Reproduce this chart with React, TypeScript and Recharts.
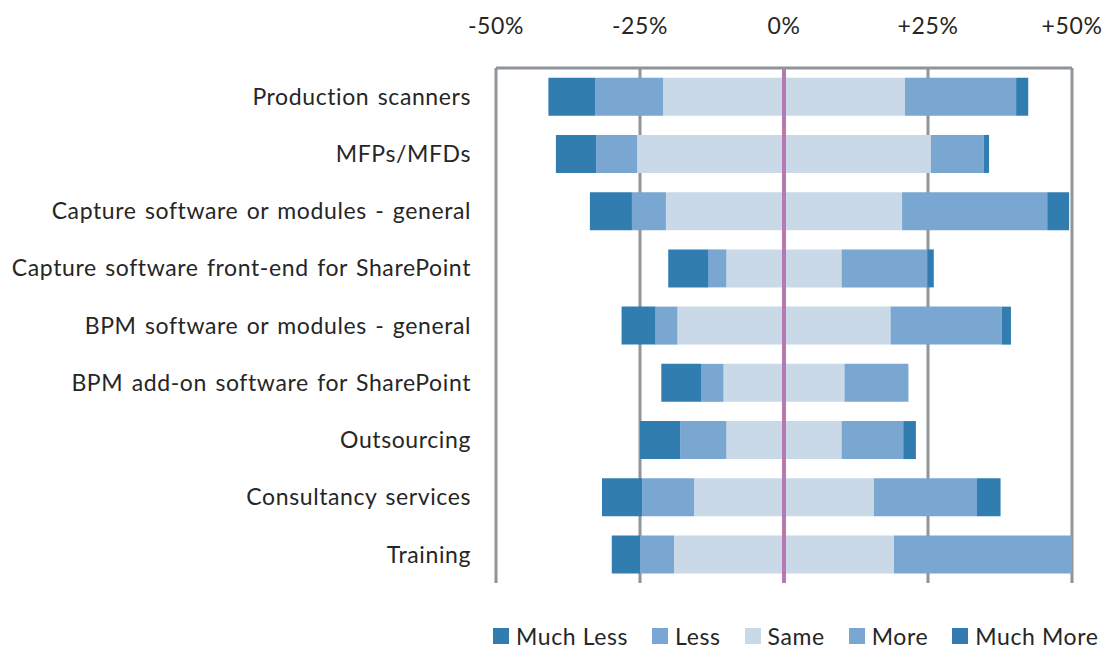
import { BarChart, Bar, XAxis, YAxis, CartesianGrid, ReferenceLine } from 'recharts';

const categories = [
  'Production scanners',
  'MFPs/MFDs',
  'Capture software or modules - general',
  'Capture software front-end for SharePoint',
  'BPM software or modules - general',
  'BPM add-on software for SharePoint',
  'Outsourcing',
  'Consultancy services',
  'Training',
];

// % of respondents, "Same" is split half each side of zero
const muchLess = [8.1, 7.0, 7.3, 7.0, 5.9, 6.9, 7.0, 7.0, 4.9];
const less = [11.8, 7.1, 5.9, 3.1, 3.8, 3.9, 8.0, 9.0, 5.9];
const same = [42, 51, 41, 20, 37, 21, 20, 31.2, 38.2];
const more = [19.3, 9.2, 25.2, 14.9, 19.3, 11.1, 10.7, 17.9, 31.7];
const muchMore = [2.1, 0.9, 3.8, 1.1, 1.6, 0, 2.2, 4.1, 0];

const tickValues = [-50, -25, 0, 25, 50];
const tickLabels = ['-50%', '-25%', '0%', '+25%', '+50%'];

const legendNames = ['Much Less', 'Less', 'Same', 'More', 'Much More'];

const DARK = '#317db0';
const MID = '#79a7d2';
const LIGHT = '#c9d9e7';
const legendColors = [DARK, MID, LIGHT, MID, DARK];

const FONT = 'Lato, "Open Sans", sans-serif';
const TEXT = '#262626';
const GRID = '#8f959b';

const textStyle = {
  fill: TEXT,
  fontSize: 23,
  fontFamily: FONT,
  letterSpacing: 0.6,
  wordSpacing: 2,
};

const data = categories.map((name, i) => ({
  name,
  sameNeg: -same[i] / 2,
  lessNeg: -less[i],
  muchLessNeg: -muchLess[i],
  samePos: same[i] / 2,
  more: more[i],
  muchMore: muchMore[i],
}));

export default function App() {
  return (
    <div style={{ position: 'absolute', left: 0, top: 0, width: 1102, height: 649, fontFamily: FONT }}>
      <BarChart
        width={1102}
        height={649}
        data={data}
        layout="vertical"
        stackOffset="sign"
        barCategoryGap="17%"
        margin={{ top: 28, right: 30, bottom: 66, left: 0 }}
      >
        <CartesianGrid horizontal={false} stroke={GRID} strokeWidth={3} />
        <XAxis
          type="number"
          orientation="top"
          domain={[-50, 50]}
          ticks={tickValues}
          allowDataOverflow
          height={40}
          tickSize={0}
          tickMargin={34}
          tickFormatter={(v: number) => tickLabels[tickValues.indexOf(v)]}
          axisLine={{ stroke: GRID, strokeWidth: 3 }}
          tick={textStyle}
        />
        <YAxis
          type="category"
          dataKey="name"
          width={496}
          tickSize={0}
          tickMargin={25}
          axisLine={false}
          tick={textStyle}
        />
        <Bar dataKey="sameNeg" stackId="s" fill={LIGHT} isAnimationActive={false} />
        <Bar dataKey="samePos" stackId="s" fill={LIGHT} isAnimationActive={false} />
        <Bar dataKey="lessNeg" stackId="s" fill={MID} isAnimationActive={false} />
        <Bar dataKey="more" stackId="s" fill={MID} isAnimationActive={false} />
        <Bar dataKey="muchLessNeg" stackId="s" fill={DARK} isAnimationActive={false} />
        <Bar dataKey="muchMore" stackId="s" fill={DARK} isAnimationActive={false} />
        <ReferenceLine x={0} stroke="#b878b0" strokeWidth={4} />
      </BarChart>
      <div
        style={{
          position: 'absolute',
          left: 493,
          top: 622,
          display: 'flex',
          alignItems: 'center',
          fontSize: 23,
          letterSpacing: 0.6,
          color: TEXT,
          whiteSpace: 'nowrap',
        }}
      >
        {legendNames.map((n, i) => (
          <div key={n} style={{ display: 'flex', alignItems: 'center', marginRight: 24 }}>
            <span style={{ width: 16, height: 16, background: legendColors[i], marginRight: 7 }} />
            <span>{n}</span>
          </div>
        ))}
      </div>
    </div>
  );
}
